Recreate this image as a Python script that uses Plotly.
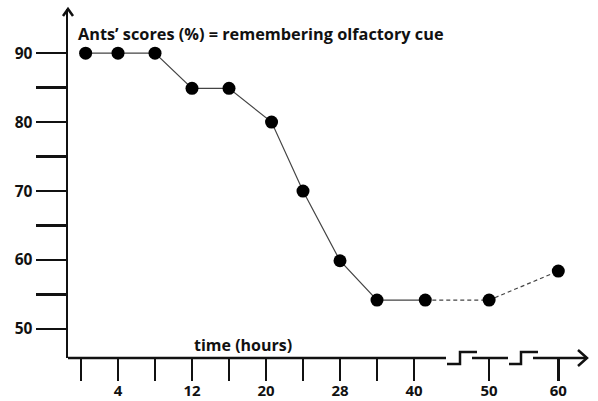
import numpy as np
import plotly.graph_objects as go

# ---- data ----
time_hours = [0.5, 4, 8, 12, 16, 20.6, 24, 28, 32, 41.5, 50, 60]
scores = [90, 90, 90, 84.9, 84.9, 80, 70, 59.9, 54.2, 54.2, 54.2, 58.4]
n_solid = 10  # first 10 points joined by a solid line, rest dashed

tick_hours = [0, 4, 8, 12, 16, 20, 24, 28, 32, 40, 50, 60]
tick_labels = ["", "4", "", "12", "", "20", "", "28", "", "40", "50", "60"]
y_ticks = [50, 55, 60, 65, 70, 75, 80, 85, 90]
y_labels = ["50", "", "60", "", "70", "", "80", "", "90"]

# broken time axis: piecewise scale (hours -> axis units)
brk_hours = [0, 32, 40, 50, 60]
brk_units = [0, 8, 9, 11.03, 12.9]


def tscale(h):
    return list(np.interp(h, brk_hours, brk_units))


xs = tscale(time_hours)
xt = tscale(tick_hours)

FONT = "'Open Sans', Lato, 'Liberation Sans', Arial, sans-serif"
INK = "#111111"

fig = go.Figure()
fig.add_trace(go.Scatter(
    x=xs[:n_solid], y=scores[:n_solid], mode="lines",
    line=dict(color="#444444", width=1.2), hoverinfo="skip", showlegend=False))
fig.add_trace(go.Scatter(
    x=xs[n_solid - 1:], y=scores[n_solid - 1:], mode="lines",
    line=dict(color="#444444", width=1.2, dash="4px,3px"), hoverinfo="skip",
    showlegend=False))
fig.add_trace(go.Scatter(
    x=xs, y=scores, mode="markers",
    marker=dict(color="#000000", size=13), showlegend=False, cliponaxis=False))

# plot area in pixels
W, H = 598, 401
L, R, T, B = 68, 8, 9, 43
pw, ph = W - L - R, H - T - B


def px(xp):
    return (xp - L) / pw


def py(yp):
    return (H - B - yp) / ph


line_style = dict(color=INK, width=2.5)
shapes = []


def seg(pts):
    d = "M " + " L ".join(f"{px(a):.5f},{py(b):.5f}" for a, b in pts)
    shapes.append(dict(type="path", path=d, xref="paper", yref="paper",
                       line=line_style, layer="above"))


# x axis pieces with breaks and arrow
seg([(68, 358), (446, 358)])
seg([(447, 364), (460, 364), (460, 352), (477, 352)])
seg([(472, 358), (508, 358)])
seg([(509, 364), (521, 364), (521, 352), (538, 352)])
seg([(533, 358), (587, 358)])
seg([(578, 350), (587, 358), (578, 366)])
# y axis arrow head
seg([(63, 16), (68, 9), (73, 16)])

fig.update_layout(
    width=W, height=H,
    margin=dict(l=L, r=R, t=T, b=B, pad=0),
    paper_bgcolor="white", plot_bgcolor="white",
    font=dict(family=FONT, size=16, color=INK),
    shapes=shapes,
    xaxis=dict(
        range=[(68 - 81) / 37, (590 - 81) / 37], showgrid=False, zeroline=False,
        showline=False, tickmode="array", tickvals=xt, ticktext=tick_labels,
        ticks="outside", ticklen=22, tickwidth=2.5, tickcolor=INK,
        ticklabelstandoff=-3,
        tickfont=dict(family=FONT, size=15, color=INK, weight="bold"),
        automargin=False, fixedrange=True),
    yaxis=dict(
        range=[45.8, 96.4], showgrid=False, zeroline=False,
        showline=True, linecolor=INK, linewidth=2.5,
        tickmode="array", tickvals=y_ticks, ticktext=y_labels,
        ticks="outside", ticklen=30, tickwidth=2.5, tickcolor=INK,
        tickfont=dict(family=FONT, size=15.5, color=INK, weight="bold"),
        automargin=False, fixedrange=True),
    annotations=[
        dict(text="<b>Ants\u2019 scores (%) = remembering olfactory cue</b>",
             xref="paper", yref="paper", x=px(76), y=py(34),
             xanchor="left", yanchor="middle", showarrow=False,
             font=dict(family=FONT, size=16.3, color=INK)),
        dict(text="<b>time (hours)</b>",
             xref="paper", yref="paper", x=px(192), y=py(345),
             xanchor="left", yanchor="middle", showarrow=False,
             font=dict(family=FONT, size=16, color=INK)),
    ],
)

fig.write_html("out.html",
               config={"displayModeBar": False, "staticPlot": True},
               post_script="document.body.style.margin='0';"
                           "document.body.style.padding='0';")
